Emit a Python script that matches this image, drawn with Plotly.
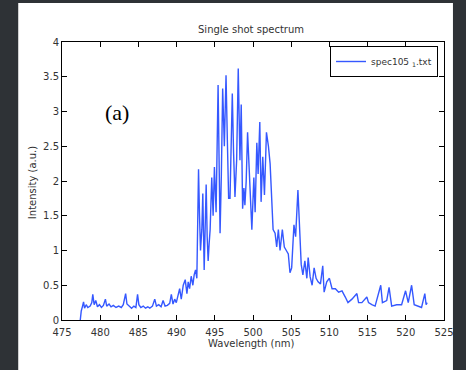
import plotly.graph_objects as go

wavelength = [477.39, 477.52, 477.69, 477.82, 477.95, 478.17, 478.38, 478.69, 478.90, 479.03,
              479.21, 479.42, 479.64, 479.90, 480.16, 480.42, 480.68, 480.85, 481.16, 481.42,
              481.72, 482.07, 482.42, 482.76, 483.02, 483.33, 483.50, 483.80, 484.11, 484.41,
              484.67, 484.89, 485.06, 485.32, 485.63, 485.93, 486.23, 486.49, 486.84, 487.14,
              487.36, 487.66, 487.97, 488.23, 488.49, 488.79, 489.10, 489.31, 489.53, 489.75,
              489.96, 490.18, 490.40, 490.61, 490.87, 491.13, 491.35, 491.52, 491.70, 491.91,
              492.13, 492.30, 492.48, 492.65, 492.87, 493.00, 493.13, 493.30, 493.43, 493.61,
              493.74, 493.87, 494.00, 494.13, 494.26, 494.39, 494.60, 494.78, 494.95, 495.17,
              495.43, 495.56, 495.69, 495.86, 496.03, 496.25, 496.47, 496.64, 496.81, 496.99,
              497.29, 497.46, 497.64, 497.86, 498.07, 498.29, 498.46, 498.64, 498.81, 498.94,
              499.11, 499.29, 499.46, 499.59, 499.85, 500.11, 500.28, 500.50, 500.67, 500.89,
              501.06, 501.28, 501.50, 501.76, 502.02, 502.24, 502.45, 502.63, 502.89, 503.10,
              503.32, 503.54, 503.84, 504.10, 504.36, 504.62, 504.84, 505.06, 505.36, 505.58,
              505.88, 506.10, 506.31, 506.53, 506.79, 507.05, 507.22, 507.48, 507.74, 508.00,
              508.26, 508.52, 508.83, 509.13, 509.31, 509.65, 510.00, 510.35, 510.78, 511.21,
              511.65, 512.08, 512.43, 512.95, 513.60, 513.82, 514.25, 514.90, 515.12, 515.55,
              515.98, 516.72, 516.94, 517.50, 517.81, 518.15, 518.80, 519.45, 519.97, 520.32,
              520.76, 521.10, 521.62, 522.06, 522.49, 522.66, 522.79]

intensity = [0.0, 0.13, 0.2, 0.26, 0.17, 0.22, 0.18, 0.2, 0.25, 0.37,
             0.22, 0.28, 0.19, 0.22, 0.18, 0.21, 0.3, 0.2, 0.23, 0.19,
             0.21, 0.18, 0.2, 0.18, 0.22, 0.38, 0.23, 0.2, 0.17, 0.2,
             0.18, 0.37, 0.22, 0.18, 0.2, 0.17, 0.19, 0.17, 0.2, 0.3,
             0.2, 0.22, 0.19, 0.28, 0.2, 0.21, 0.24, 0.37, 0.23, 0.3,
             0.25, 0.35, 0.45, 0.3, 0.5, 0.58, 0.38, 0.55, 0.45, 0.63,
             0.5, 0.65, 0.72, 0.6, 2.17, 1.5, 1.0, 1.3, 1.82, 0.72,
             1.2, 1.95, 1.2, 0.85, 1.1, 1.3, 2.05, 1.5, 2.2, 1.55,
             3.38, 2.2, 1.25, 2.1, 3.33, 2.5, 3.52, 2.6, 1.75, 1.75,
             3.26, 2.4, 1.77, 2.3, 3.62, 2.3, 3.1, 1.6, 1.9, 1.65,
             2.0, 2.7, 2.2, 2.0, 1.3, 2.05, 1.55, 2.55, 2.1, 2.85,
             1.7, 2.35, 1.8, 2.7, 2.5, 2.25, 1.8, 1.3, 1.25, 1.05,
             1.3, 1.0, 1.3, 1.05, 1.0, 0.95, 0.68, 0.75, 1.37, 1.2,
             1.87, 1.3, 0.8, 0.65, 0.85, 0.6, 0.9, 0.62, 0.5, 0.75,
             0.6, 0.55, 0.52, 0.78, 0.4, 0.55, 0.6, 0.45, 0.45, 0.4,
             0.42, 0.33, 0.25, 0.3, 0.38, 0.25, 0.25, 0.33, 0.25, 0.22,
             0.2, 0.5, 0.25, 0.28, 0.47, 0.2, 0.22, 0.22, 0.42, 0.25,
             0.5, 0.22, 0.2, 0.18, 0.38, 0.22, 0.25]

x_ticks = [475, 480, 485, 490, 495, 500, 505, 510, 515, 520, 525]
y_ticks = [0, 0.5, 1, 1.5, 2, 2.5, 3, 3.5, 4]
y_tick_labels = ["0", "0.5", "1", "1.5", "2", "2.5", "3", "3.5", "4"]

W, H = 466, 370
L, R, T, B = 62, 20, 42, 50
pw, ph = W - L - R, H - T - B

def px_x(p):
    return (p - L) / pw

def px_y(p):
    return (H - B - p) / ph

fig = go.Figure()
fig.add_trace(go.Scatter(
    x=wavelength, y=intensity, mode="lines",
    name="spec105 <sub>1</sub>.txt",
    line=dict(color="#3558ff", width=1.4),
))

tick_font = dict(family="DejaVu Sans", size=10, color="#333333")
fig.update_layout(
    width=W, height=H,
    margin=dict(l=L, r=R, t=T, b=B),
    paper_bgcolor="#2e3236",
    plot_bgcolor="white",
    showlegend=True,
    legend=dict(
        x=px_x(440), y=px_y(46), xanchor="right", yanchor="top",
        bgcolor="white", bordercolor="black", borderwidth=1,
        font=dict(family="DejaVu Sans", size=9, color="#333333"),
        tracegroupgap=0, itemwidth=30,
    ),
    xaxis=dict(
        range=[475, 525], tickvals=x_ticks, ticks="inside", ticklen=5,
        tickcolor="black", showline=True, linecolor="black", linewidth=1,
        mirror="ticks", showgrid=False, zeroline=False, tickfont=tick_font,
        ticklabelstandoff=3,
    ),
    yaxis=dict(
        range=[0, 4], tickvals=y_ticks, ticktext=y_tick_labels, ticks="inside",
        ticklen=5, tickcolor="black", showline=True, linecolor="black",
        linewidth=1, mirror="ticks", showgrid=False, zeroline=False,
        tickfont=tick_font,
    ),
)

# light figure panel
fig.add_shape(type="rect", xref="paper", yref="paper",
              x0=px_x(18), x1=px_x(455), y0=px_y(372), y1=px_y(3),
              fillcolor="white", line=dict(width=0), layer="below")

label_font = dict(family="DejaVu Sans", size=10, color="#333333")
fig.add_annotation(text="Single shot spectrum", xref="paper", yref="paper",
                   x=px_x(252), y=px_y(29), showarrow=False,
                   xanchor="center", yanchor="middle", font=label_font)
fig.add_annotation(text="Wavelength (nm)", xref="paper", yref="paper",
                   x=px_x(252), y=px_y(343), showarrow=False,
                   xanchor="center", yanchor="middle", font=label_font)
fig.add_annotation(text="Intensity (a.u.)", xref="paper", yref="paper",
                   x=px_x(32), y=px_y(183), showarrow=False, textangle=-90,
                   xanchor="center", yanchor="middle", font=label_font)
fig.add_annotation(text="(a)", xref="x", yref="y", x=482.2, y=2.98,
                   showarrow=False, xanchor="center", yanchor="middle",
                   font=dict(family="Liberation Serif", size=22, color="black"))

fig.write_html("out.html")
